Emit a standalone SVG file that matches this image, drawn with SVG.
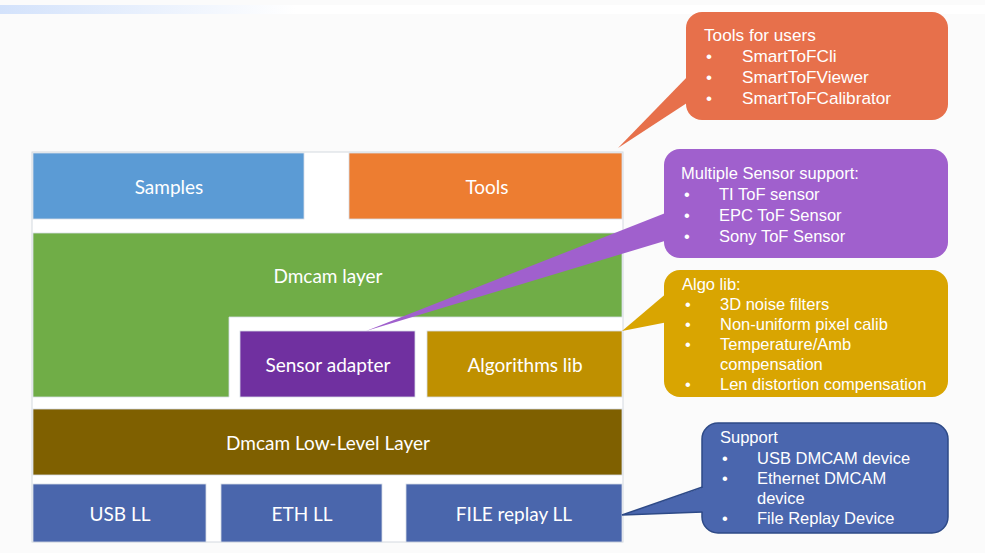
<svg xmlns="http://www.w3.org/2000/svg" width="985" height="553" viewBox="0 0 985 553">
<defs>
<linearGradient id="topbar" x1="0" y1="0" x2="1" y2="0">
<stop offset="0" stop-color="#d3e2fb"/>
<stop offset="0.3" stop-color="#ffffff"/>
<stop offset="1" stop-color="#ffffff"/>
</linearGradient>
<style>
.lbl{font-family:Lato,"Open Sans","DejaVu Sans",sans-serif;font-size:19px;fill:#ffffff;text-anchor:middle}
.ct{font-family:"Liberation Sans",Arial,sans-serif;font-size:16.5px;fill:#ffffff}
.ct2{font-family:"Liberation Sans",Arial,sans-serif;font-size:17.2px;fill:#ffffff}
.blk{stroke:#d6dde6;stroke-width:0.8}
</style>
</defs>
<rect x="0" y="0" width="985" height="553" fill="#fbfbfb"/>
<rect x="0" y="5" width="985" height="9" fill="url(#topbar)"/>
<rect id="frame" x="32" y="152" width="591" height="390" fill="#ffffff" stroke="#d4d9e0" stroke-width="1"/>

<g id="samples"><rect class="blk" x="33" y="153" width="271" height="66" fill="#5b9bd5"/><text class="lbl" x="169" y="194">Samples</text></g>
<g id="tools"><rect class="blk" x="349" y="153" width="273" height="66" fill="#ed7d31"/><text class="lbl" x="487" y="194">Tools</text></g>
<g id="dmcam-layer"><path class="blk" d="M33 233H622V317H229V397H33Z" fill="#70ad47"/><text class="lbl" x="328" y="283">Dmcam layer</text></g>
<g id="sensor-adapter"><rect class="blk" x="240" y="331" width="175" height="66" fill="#7030a0"/><text class="lbl" x="328" y="372">Sensor adapter</text></g>
<g id="algorithms-lib"><rect class="blk" x="427" y="331" width="195" height="66" fill="#bf9000"/><text class="lbl" x="525" y="372">Algorithms lib</text></g>
<g id="dmcam-ll"><rect class="blk" x="33" y="409" width="589" height="66" fill="#7f6000"/><text class="lbl" x="328" y="450">Dmcam Low-Level Layer</text></g>
<g id="usb-ll"><rect class="blk" x="33" y="484" width="173" height="58" fill="#4a66ac"/><text class="lbl" x="120" y="521">USB LL</text></g>
<g id="eth-ll"><rect class="blk" x="221" y="484" width="161" height="58" fill="#4a66ac"/><text class="lbl" x="302" y="521">ETH LL</text></g>
<g id="file-ll"><rect class="blk" x="406" y="484" width="216" height="58" fill="#4a66ac"/><text class="lbl" x="514" y="521">FILE replay LL</text></g>

<g id="callout-tools">
<rect x="686" y="12" width="262" height="108" rx="16" fill="#e7704b"/>
<text class="ct2" x="704" y="41">Tools for users</text>
<text class="ct2" x="706" y="62">•</text><text class="ct2" x="742" y="62">SmartToFCli</text>
<text class="ct2" x="706" y="83">•</text><text class="ct2" x="742" y="83">SmartToFViewer</text>
<text class="ct2" x="706" y="104">•</text><text class="ct2" x="742" y="104">SmartToFCalibrator</text>
</g>
<g id="callout-sensor">
<rect x="664" y="149" width="284" height="109" rx="16" fill="#a060cd"/>
<text class="ct" x="681" y="179">Multiple Sensor support:</text>
<text class="ct" x="684" y="200">•</text><text class="ct" x="719" y="200">TI ToF sensor</text>
<text class="ct" x="684" y="221">•</text><text class="ct" x="719" y="221">EPC ToF Sensor</text>
<text class="ct" x="684" y="242">•</text><text class="ct" x="719" y="242">Sony ToF Sensor</text>
</g>
<g id="callout-algo">
<rect x="664" y="270" width="284" height="127" rx="16" fill="#d9a501"/>
<text class="ct" x="682" y="290">Algo lib:</text>
<text class="ct" x="685" y="310">•</text><text class="ct" x="720" y="310">3D noise filters</text>
<text class="ct" x="685" y="330">•</text><text class="ct" x="720" y="330">Non-uniform pixel calib</text>
<text class="ct" x="685" y="350">•</text><text class="ct" x="720" y="350">Temperature/Amb</text>
<text class="ct" x="720" y="370">compensation</text>
<text class="ct" x="685" y="390">•</text><text class="ct" x="720" y="390">Len distortion compensation</text>
</g>
<g id="callout-support">
<rect x="702" y="423" width="246" height="110" rx="16" fill="#4a66ae" stroke="#2e4a87" stroke-width="1.5"/>
<text class="ct" x="720" y="443">Support</text>
<text class="ct" x="722" y="464">•</text><text class="ct" x="757" y="464">USB DMCAM device</text>
<text class="ct" x="722" y="484">•</text><text class="ct" x="757" y="484">Ethernet DMCAM</text>
<text class="ct" x="757" y="504">device</text>
<text class="ct" x="722" y="524">•</text><text class="ct" x="757" y="524">File Replay Device</text>
</g>

<g id="connectors">
<polygon points="690,74 618,148 690,101" fill="#e7704b"/>
<polygon points="668,212 366,331 668,240" fill="#a060cd"/>
<polygon points="668,292 622,331 668,322" fill="#d9a501"/>
<polygon points="704,487 622,515 704,512" fill="#4a66ae"/>
<polyline points="702.5,487 622,515 702.5,512" fill="none" stroke="#2e4a87" stroke-width="1.5"/>
</g>
</svg>
